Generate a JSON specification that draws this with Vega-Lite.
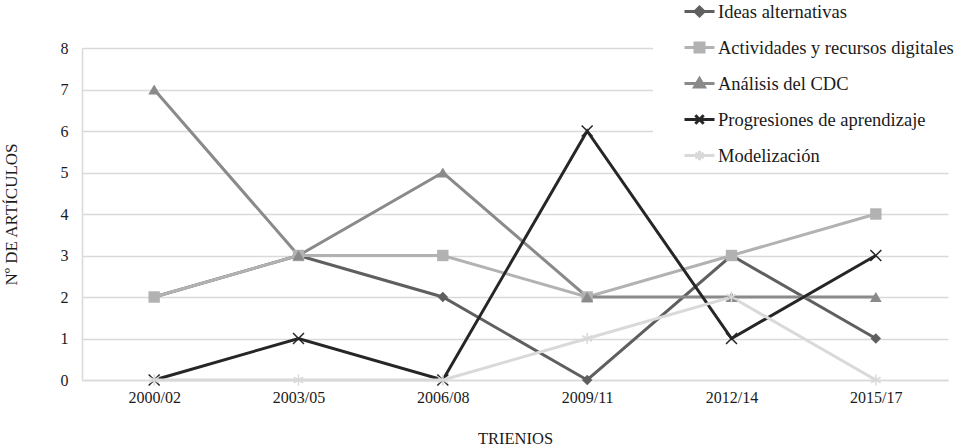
{
  "$schema": "https://vega.github.io/schema/vega-lite/v6.json",
  "autosize": "none",
  "width": 866,
  "height": 332,
  "padding": {"left": 82, "top": 48, "right": 17, "bottom": 67},
  "background": "white",
  "config": {
    "view": {"stroke": null},
    "font": "Liberation Serif"
  },
  "data": {
    "values": [
      {"serie": "Ideas alternativas", "trienio": "2000/02", "n": 2},
      {"serie": "Ideas alternativas", "trienio": "2003/05", "n": 3},
      {"serie": "Ideas alternativas", "trienio": "2006/08", "n": 2},
      {"serie": "Ideas alternativas", "trienio": "2009/11", "n": 0},
      {"serie": "Ideas alternativas", "trienio": "2012/14", "n": 3},
      {"serie": "Ideas alternativas", "trienio": "2015/17", "n": 1},
      {"serie": "Actividades y recursos digitales", "trienio": "2000/02", "n": 2},
      {"serie": "Actividades y recursos digitales", "trienio": "2003/05", "n": 3},
      {"serie": "Actividades y recursos digitales", "trienio": "2006/08", "n": 3},
      {"serie": "Actividades y recursos digitales", "trienio": "2009/11", "n": 2},
      {"serie": "Actividades y recursos digitales", "trienio": "2012/14", "n": 3},
      {"serie": "Actividades y recursos digitales", "trienio": "2015/17", "n": 4},
      {"serie": "Análisis del CDC", "trienio": "2000/02", "n": 7},
      {"serie": "Análisis del CDC", "trienio": "2003/05", "n": 3},
      {"serie": "Análisis del CDC", "trienio": "2006/08", "n": 5},
      {"serie": "Análisis del CDC", "trienio": "2009/11", "n": 2},
      {"serie": "Análisis del CDC", "trienio": "2012/14", "n": 2},
      {"serie": "Análisis del CDC", "trienio": "2015/17", "n": 2},
      {"serie": "Progresiones de aprendizaje", "trienio": "2000/02", "n": 0},
      {"serie": "Progresiones de aprendizaje", "trienio": "2003/05", "n": 1},
      {"serie": "Progresiones de aprendizaje", "trienio": "2006/08", "n": 0},
      {"serie": "Progresiones de aprendizaje", "trienio": "2009/11", "n": 6},
      {"serie": "Progresiones de aprendizaje", "trienio": "2012/14", "n": 1},
      {"serie": "Progresiones de aprendizaje", "trienio": "2015/17", "n": 3},
      {"serie": "Modelización", "trienio": "2000/02", "n": 0},
      {"serie": "Modelización", "trienio": "2003/05", "n": 0},
      {"serie": "Modelización", "trienio": "2006/08", "n": 0},
      {"serie": "Modelización", "trienio": "2009/11", "n": 1},
      {"serie": "Modelización", "trienio": "2012/14", "n": 2},
      {"serie": "Modelización", "trienio": "2015/17", "n": 0}
    ]
  },
  "encoding": {
    "x": {
      "field": "trienio", "type": "ordinal", "sort": null,
      "scale": {"paddingInner": 0, "paddingOuter": 0.5},
      "axis": {
        "title": "TRIENIOS", "titleFont": "Liberation Serif", "titleFontSize": 16.5, "titleFontWeight": "normal", "titleColor": "#1a1a1a", "titlePadding": 25,
        "labelAngle": 0, "labelFont": "Liberation Serif", "labelFontSize": 16, "labelColor": "#1a1a1a", "labelPadding": 9,
        "ticks": false, "domainColor": "#d9d9d9", "domainWidth": 1.5, "grid": false
      }
    },
    "y": {
      "field": "n", "type": "quantitative",
      "scale": {"domain": [0, 8], "nice": false},
      "axis": {
        "title": "Nº DE ARTÍCULOS", "titleFont": "Liberation Serif", "titleFontSize": 17, "titleFontWeight": "normal", "titleColor": "#1a1a1a", "titleX": -62, "titleY": 166,
        "values": [0,1,2,3,4,5,6,7,8], "labelOverlap": false,
        "labelFont": "Liberation Serif", "labelFontSize": 16, "labelColor": "#1a1a1a", "labelPadding": 14,
        "ticks": false, "domainColor": "#d9d9d9", "domainWidth": 1.5,
        "grid": true, "gridColor": "#d9d9d9", "gridWidth": 1.5
      }
    },
    "color": {
      "field": "serie", "type": "nominal",
      "scale": {
        "domain": ["Ideas alternativas", "Actividades y recursos digitales", "Análisis del CDC", "Progresiones de aprendizaje", "Modelización"],
        "range": ["#5f5f5f", "#b2b2b2", "#8a8a8a", "#262626", "#d9d9d9"]
      },
      "legend": null
    }
  },
  "layer": [
    {
      "mark": {"type": "line", "strokeWidth": 3},
      "encoding": {
        "order": {"field": "trienio"},
        "color": {
          "field": "serie", "type": "nominal",
          "legend": {
            "title": null,
            "orient": "none",
            "legendX": 571,
            "legendY": -57,
            "direction": "vertical",
            "fillColor": "white",
            "padding": 4,
            "symbolOffset": 26,
            "symbolSize": 900,
            "symbolStrokeWidth": 3,
            "rowPadding": 9,
            "labelFont": "Liberation Serif",
            "labelFontSize": 18.5,
            "labelColor": "#1a1a1a",
            "labelOffset": 2,
            "labelLimit": 400,
            "encode": {
              "symbols": {
                "update": {
                  "shape": {"signal": "datum.value === 'Ideas alternativas' ? 'M-1,0H1M0,-0.3L0.3,0L0,0.3L-0.3,0ZM0,-0.15L0.15,0L0,0.15L-0.15,0Z' : datum.value === 'Actividades y recursos digitales' ? 'M-1,0H1M-0.3,-0.3H0.3V0.3H-0.3ZM-0.15,-0.15H0.15V0.15H-0.15Z' : datum.value === 'Análisis del CDC' ? 'M-1,0H1M0,-0.33L0.33,0.24H-0.33ZM0,-0.12L0.12,0.12H-0.12Z' : datum.value === 'Progresiones de aprendizaje' ? 'M-1,0H1M-0.28,-0.28L0.28,0.28M-0.28,0.28L0.28,-0.28' : 'M-1,0H1M0,-0.32V0.32M-0.28,-0.16L0.28,0.16M-0.28,0.16L0.28,-0.16'"}
                }
              }
            }
          }
        }
      }
    },
    {
      "transform": [{"filter": "datum.serie === 'Ideas alternativas'"}],
      "mark": {"type": "point", "filled": true, "size": 110, "opacity": 1, "shape": "diamond"}
    },
    {
      "transform": [{"filter": "datum.serie === 'Actividades y recursos digitales'"}],
      "mark": {"type": "point", "filled": true, "size": 130, "opacity": 1, "shape": "square"}
    },
    {
      "transform": [{"filter": "datum.serie === 'Análisis del CDC'"}],
      "mark": {"type": "point", "filled": true, "size": 140, "opacity": 1, "shape": "triangle-up"}
    },
    {
      "transform": [{"filter": "datum.serie === 'Progresiones de aprendizaje'"}],
      "mark": {"type": "point", "filled": false, "size": 120, "opacity": 1, "strokeWidth": 1.5, "shape": "M-1,-1L1,1M-1,1L1,-1"}
    },
    {
      "transform": [{"filter": "datum.serie === 'Modelización'"}],
      "mark": {"type": "point", "filled": false, "size": 120, "opacity": 1, "strokeWidth": 1.5, "shape": "M0,-1V1M-0.87,-0.5L0.87,0.5M-0.87,0.5L0.87,-0.5"}
    }
  ]
}
